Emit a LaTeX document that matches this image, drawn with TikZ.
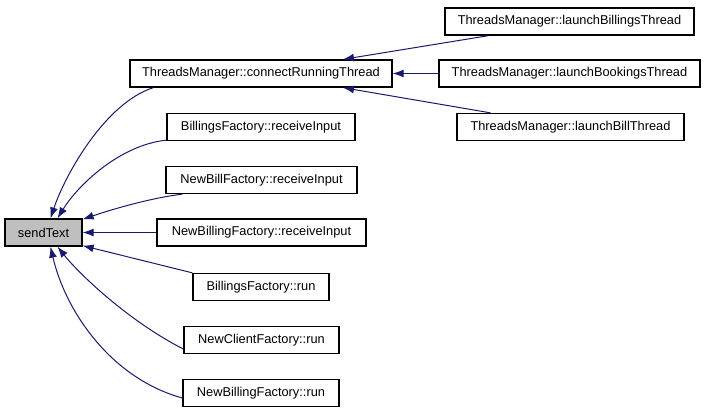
\documentclass[tikz,border=0pt]{standalone}
\usepackage{fontspec}
\setmainfont{Liberation Sans}
\usetikzlibrary{arrows.meta}
\definecolor{edgeblue}{HTML}{191970}
\definecolor{selgray}{HTML}{BFBFBF}

\begin{document}
\begin{tikzpicture}[x=1pt,y=-1pt,>={Latex[length=11pt,width=8pt]},
		fn/.style={draw,line width=1.3pt,rectangle,minimum height=27pt,inner sep=0pt,font=\fontsize{12.8}{14}\selectfont},
		call/.style={<-,draw=edgeblue,fill=none,line width=1pt,color=edgeblue}]
			\useasboundingbox (0,0) rectangle (704,413);
			\node[fn,fill=selgray,minimum width=77pt] (send) at (43.5,232.5) {sendText};
			\node[fn,minimum width=262pt] (conn) at (261,73.5) {ThreadsManager::connectRunningThread};
			\node[fn,minimum width=188pt] (bri) at (261,127) {BillingsFactory::receiveInput};
			\node[fn,minimum width=191pt] (nbfri) at (261.5,180) {NewBillFactory::receiveInput};
			\node[fn,minimum width=209pt] (nbgri) at (261.5,232.5) {NewBillingFactory::receiveInput};
			\node[fn,minimum width=136pt] (bfrun) at (261,287) {BillingsFactory::run};
			\node[fn,minimum width=155pt] (ncrun) at (261.5,340) {NewClientFactory::run};
			\node[fn,minimum width=156pt] (nbgrun) at (261,393) {NewBillingFactory::run};
			\node[fn,minimum width=249pt] (lbt) at (569.5,21.5) {ThreadsManager::launchBillingsThread};
			\node[fn,minimum width=261pt] (lbkt) at (569.5,73.5) {ThreadsManager::launchBookingsThread};
			\node[fn,minimum width=227pt] (lbillt) at (570.5,127) {ThreadsManager::launchBillThread};
			
			% callers of sendText
			\draw[call] ([xshift=7pt]send.north) .. controls (65,175) and (105,103) .. ([xshift=24pt]conn.south west);
			\draw[call] ([xshift=14pt]send.north) .. controls (78,185) and (120,145) .. ([yshift=1pt]bri.south west);
			\draw[call] ([yshift=-1pt]send.north east) .. controls (110,210) and (150,198) .. ([xshift=17pt]nbfri.south west);
			\draw[call] (send.east) -- (nbgri.west);
			\draw[call] ([yshift=1pt]send.south east) -- (bfrun.north west);
			\draw[call] ([xshift=14pt]send.south) .. controls (80,275) and (130,322) .. ([yshift=-9pt]ncrun.west);
			\draw[call] ([xshift=7pt]send.south) .. controls (65,310) and (110,378) .. ([yshift=-5pt]nbgrun.west);
			
			% callers of connectRunningThread
			\draw[call] ([xshift=82pt]conn.north) -- ([xshift=-81pt]lbt.south);
			\draw[call] (conn.east) -- (lbkt.west);
			\draw[call] ([xshift=82pt]conn.south) -- ([xshift=-80pt]lbillt.north);
		\end{tikzpicture}
\end{document}
